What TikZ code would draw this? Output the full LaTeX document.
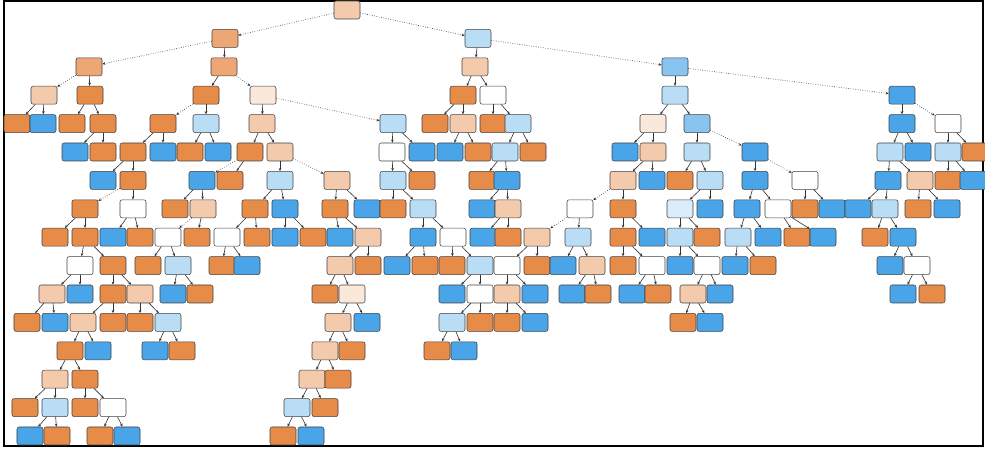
\documentclass[tikz,border=0pt]{standalone}
\usepackage{tikz}
\usetikzlibrary{arrows.meta}
\definecolor{TreeOrange}{RGB}{229,129,57}
\definecolor{TreeBlue}{RGB}{57,157,229}

\begin{document}
\begin{tikzpicture}[x=0.2mm,y=-0.2mm,
  leaf/.style={draw=black!75,line width=0.3pt,rounded corners=1.2pt,minimum width=5.2mm,minimum height=3.6mm,inner sep=0pt},
  fo/.style={leaf,fill=TreeOrange!92!white},
  mo/.style={leaf,fill=TreeOrange!70!white},
  lo/.style={leaf,fill=TreeOrange!42!white},
  po/.style={leaf,fill=TreeOrange!18!white},
  wh/.style={leaf,fill=white},
  pb/.style={leaf,fill=TreeBlue!18!white},
  lb/.style={leaf,fill=TreeBlue!35!white},
  mb/.style={leaf,fill=TreeBlue!60!white},
  fb/.style={leaf,fill=TreeBlue!92!white},
  link/.style={black!80,line width=0.35pt,-{Stealth[length=1.8pt,width=1.5pt]}},
  farlink/.style={link,densely dotted}]
\useasboundingbox (0,0) rectangle (985,450);
\draw[line width=0.7pt] (4,1) rectangle (983,446);
% nodes: id / x / row / shade
\foreach \id/\x/\r/\s in {
  1/347/0/lo,
  2/225/1/mo, 3/478/1/lb,
  4/89/2/mo, 5/224/2/mo, 6/475/2/lo, 7/675/2/mb,
  8/44/3/lo, 9/90/3/fo, 10/206/3/fo, 11/263/3/po, 12/463/3/fo, 13/493/3/wh, 14/675/3/lb, 15/902/3/fb,
  16/17/4/fo, 17/43/4/fb, 18/72/4/fo, 19/103/4/fo, 20/163/4/fo, 21/206/4/lb, 22/262/4/lo, 23/393/4/lb,
  24/435/4/fo, 25/463/4/lo, 26/493/4/fo, 27/518/4/lb, 28/653/4/po, 29/697/4/mb, 30/902/4/fb, 31/948/4/wh,
  32/75/5/fb, 33/103/5/fo, 34/133/5/fo, 35/163/5/fb, 36/190/5/fo, 37/218/5/fb, 38/250/5/fo, 39/280/5/lo,
  40/392/5/wh, 41/422/5/fb, 42/450/5/fb, 43/478/5/fo, 44/505/5/lb, 45/533/5/fo, 46/625/5/fb, 47/653/5/lo,
  48/697/5/lb, 49/755/5/fb, 50/890/5/lb, 51/918/5/fb, 52/948/5/lb, 53/975/5/fo,
  54/103/6/fb, 55/133/6/fo, 56/202/6/fb, 57/230/6/fo, 58/280/6/lb, 59/337/6/lo, 60/393/6/lb, 61/422/6/fo,
  62/482/6/fo, 63/507/6/fb, 64/623/6/lo, 65/652/6/fb, 66/680/6/fo, 67/710/6/lb, 68/755/6/fb, 69/805/6/wh,
  70/888/6/fb, 71/920/6/lo, 72/948/6/fo, 73/973/6/fb,
  74/85/7/fo, 75/133/7/wh, 76/175/7/fo, 77/203/7/lo, 78/255/7/fo, 79/285/7/fb, 80/335/7/fo, 81/367/7/fb,
  82/393/7/fo, 83/423/7/lb, 84/482/7/fb, 85/508/7/lo, 86/580/7/wh, 87/623/7/fo, 88/680/7/pb, 89/710/7/fb,
  90/747/7/fb, 91/778/7/wh, 92/805/7/fo, 93/832/7/fb, 94/858/7/fb, 95/885/7/lb, 96/918/7/fo, 97/947/7/fb,
  98/55/8/fo, 99/85/8/fo, 100/113/8/fb, 101/140/8/fo, 102/168/8/wh, 103/197/8/fo, 104/227/8/wh, 105/257/8/fo,
  106/285/8/fb, 107/313/8/fo, 108/340/8/fb, 109/368/8/lo, 110/423/8/fb, 111/453/8/wh, 112/483/8/fb,
  113/508/8/fo, 114/537/8/lo, 115/578/8/lb, 116/623/8/fo, 117/652/8/fb, 118/680/8/lb, 119/707/8/fo,
  120/738/8/lb, 121/768/8/fb, 122/797/8/fo, 123/823/8/fb, 124/875/8/fo, 125/903/8/fb,
  126/80/9/wh, 127/113/9/fo, 128/148/9/fo, 129/178/9/lb, 130/222/9/fo, 131/247/9/fb, 132/340/9/lo,
  133/368/9/fo, 134/397/9/fb, 135/425/9/fo, 136/452/9/fo, 137/480/9/lb, 138/507/9/wh, 139/537/9/fo,
  140/563/9/fb, 141/592/9/lo, 142/623/9/fo, 143/652/9/wh, 144/680/9/fb, 145/707/9/wh, 146/735/9/fb,
  147/763/9/fo, 148/890/9/fb, 149/917/9/wh,
  150/52/10/lo, 151/80/10/fb, 152/113/10/fo, 153/140/10/lo, 154/173/10/fb, 155/200/10/fo, 156/325/10/fo,
  157/352/10/po, 158/452/10/fb, 159/480/10/wh, 160/507/10/lo, 161/535/10/fb, 162/572/10/fb, 163/598/10/fo,
  164/632/10/fb, 165/658/10/fo, 166/693/10/lo, 167/720/10/fb, 168/903/10/fb, 169/932/10/fo,
  170/27/11/fo, 171/55/11/fb, 172/83/11/lo, 173/113/11/fo, 174/140/11/fo, 175/168/11/lb, 176/338/11/lo,
  177/367/11/fb, 178/452/11/lb, 179/480/11/fo, 180/507/11/fo, 181/535/11/fb, 182/683/11/fo, 183/710/11/fb,
  184/70/12/fo, 185/98/12/fb, 186/155/12/fb, 187/182/12/fo, 188/325/12/lo, 189/352/12/fo, 190/437/12/fo,
  191/464/12/fb,
  192/55/13/lo, 193/85/13/fo, 194/312/13/lo, 195/338/13/fo,
  196/25/14/fo, 197/55/14/lb, 198/85/14/fo, 199/113/14/wh, 200/297/14/lb, 201/325/14/fo,
  202/30/15/fb, 203/57/15/fo, 204/100/15/fo, 205/127/15/fb, 206/283/15/fo, 207/311/15/fb}
  \node[\s] (n\id) at (\x,{10+28.4*\r}) {};
% short edges
\foreach \p/\c in {2/5, 3/6, 4/9, 5/10, 6/12, 6/13, 7/14, 8/16, 8/17, 9/18, 9/19, 10/21, 11/22,
  12/24, 12/25, 13/26, 13/27, 14/28, 14/29, 15/30, 19/32, 19/33, 20/34, 20/35, 21/36, 21/37,
  22/38, 22/39, 23/40, 23/41, 25/42, 25/43, 27/44, 27/45, 28/46, 28/47, 29/48, 30/50, 30/51,
  31/52, 31/53, 34/54, 34/55, 38/57, 39/58, 40/60, 40/61, 44/62, 44/63, 47/64, 47/65, 48/66,
  48/67, 49/68, 50/70, 50/71, 52/72, 52/73, 55/75, 56/76, 56/77, 58/78, 58/79, 59/80, 59/81,
  60/82, 60/83, 63/84, 63/85, 64/87, 67/88, 67/89, 68/90, 68/91, 69/92, 69/93, 70/94, 70/95,
  71/96, 71/97, 74/98, 74/99, 75/100, 75/101, 77/103, 78/104, 78/105, 79/106, 79/107, 80/108,
  80/109, 83/110, 83/111, 85/112, 85/113, 86/115, 87/116, 87/117, 88/118, 88/119, 90/120,
  90/121, 91/122, 91/123, 95/124, 95/125, 99/126, 99/127, 102/128, 102/129, 104/130, 104/131,
  109/132, 109/133, 110/134, 110/135, 111/136, 111/137, 114/138, 114/139, 115/140, 115/141,
  116/142, 116/143, 118/144, 118/145, 120/146, 120/147, 125/148, 125/149, 126/150, 126/151,
  127/152, 127/153, 129/154, 129/155, 132/156, 132/157, 137/158, 137/159, 138/160, 138/161,
  141/162, 141/163, 143/164, 143/165, 145/166, 145/167, 149/168, 149/169, 150/170, 150/171,
  152/172, 152/173, 153/174, 153/175, 157/176, 157/177, 159/178, 159/179, 160/180, 160/181,
  166/182, 166/183, 172/184, 172/185, 175/186, 175/187, 176/188, 176/189, 178/190, 178/191,
  184/192, 184/193, 188/194, 188/195, 192/196, 192/197, 193/198, 193/199, 194/200, 194/201,
  197/202, 197/203, 199/204, 199/205, 200/206, 200/207}
  \draw[link] (n\p) -- (n\c);
% long edges
\foreach \p/\c in {1/2, 1/3, 2/4, 3/7, 7/15, 5/11, 11/23, 4/8, 10/20, 29/49, 39/59, 49/69,
  55/74, 64/86, 15/31, 86/114, 77/102, 38/56}
  \draw[farlink] (n\p) -- (n\c);
\end{tikzpicture}
\end{document}
